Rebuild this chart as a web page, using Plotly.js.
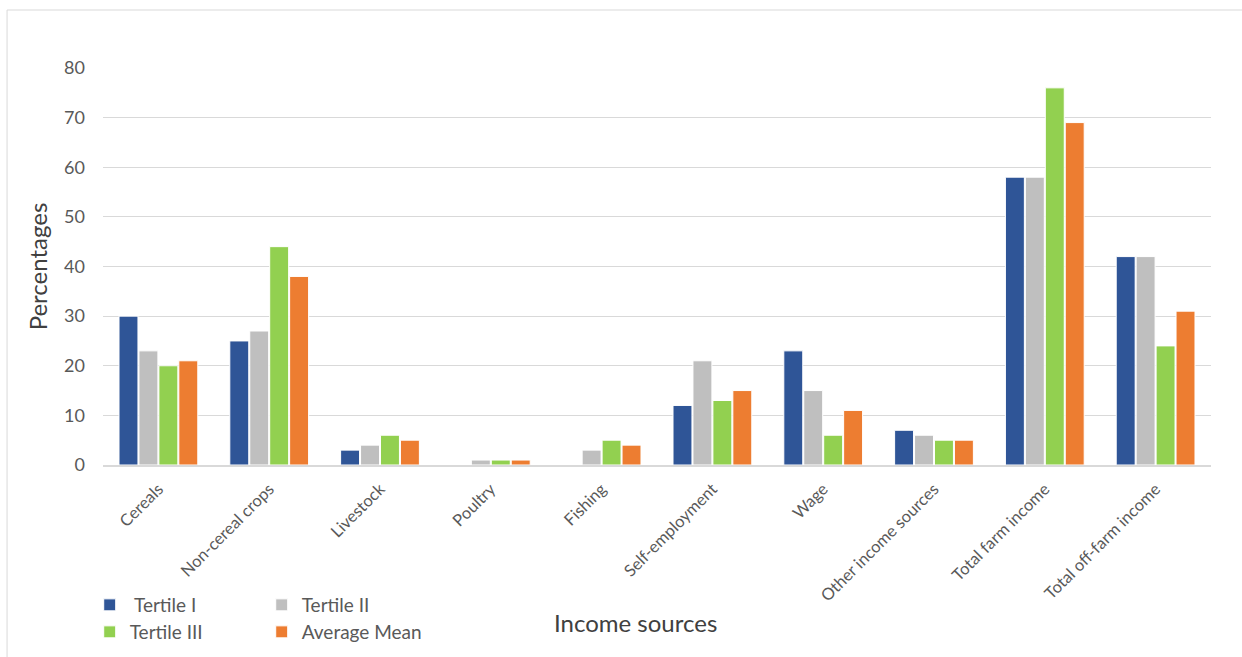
<!DOCTYPE html>
<html><head><meta charset="utf-8">
<script src="https://cdn.plot.ly/plotly-3.0.1.min.js"></script>
<style>html,body{margin:0;padding:0;background:#fff}#chart{width:1242px;height:657px}</style>
</head><body><div id="chart"></div>
<script>
const categories = ["Cereals","Non-cereal crops","Livestock","Poultry","Fishing","Self-employment","Wage","Other income sources","Total farm income","Total off-farm income"];
const tertileI   = [30, 25, 3, 0, 0, 12, 23, 7, 58, 42];
const tertileII  = [23, 27, 4, 1, 3, 21, 15, 6, 58, 42];
const tertileIII = [20, 44, 6, 1, 5, 13, 6, 5, 76, 24];
const averageMean= [21, 38, 5, 1, 4, 15, 11, 5, 69, 31];
const seriesNames = [" Tertile I","Tertile II","Tertile III","Average Mean"];
const colors = ["#2F5597","#BFBFBF","#92D050","#ED7D31"];
const allSeries = [tertileI, tertileII, tertileIII, averageMean];
const legendIds = ["legend","legend","legend2","legend2"];

const traces = allSeries.map((vals,i)=>({
  type:"bar", x:categories, y:vals, name:seriesNames[i],
  marker:{color:colors[i], line:{color:"#ffffff", width:1}},
  legend:legendIds[i], hoverinfo:"y"
}));

const font = "Lato, 'Open Sans', sans-serif";
const legendFont = {family:font, size:19, color:"#595959"};
const plotBottom = 465;
const plotH = plotBottom - 68;
const layout = {
  width:1242, height:657,
  margin:{l:103, r:31, t:68, b:657-plotBottom, autoexpand:false},
  paper_bgcolor:"#ffffff", plot_bgcolor:"#ffffff",
  font:{family:font, color:"#595959", size:16},
  barmode:"group", bargap:0.28, bargroupgap:0.05,
  xaxis:{
    tickangle:-45, tickfont:{size:16.5, color:"#595959"},
    showgrid:false, showline:true, linecolor:"#d9d9d9", linewidth:2,
    ticks:"", automargin:false, ticklabelstandoff:6
  },
  yaxis:{
    range:[0,80], dtick:10, tickfont:{size:18, color:"#595959"},
    gridcolor:"#d9d9d9", gridwidth:1, zeroline:false, showline:false,
    ticks:"", ticklen:0, automargin:false, ticklabelstandoff:17,
    title:{text:"Percentages", font:{size:24, color:"#404040"}, standoff:9}
  },
  legend:{orientation:"h", x:-0.012, y:(plotBottom-605)/plotH, xanchor:"left", yanchor:"middle",
    entrywidth:127, entrywidthmode:"pixels", font:legendFont,
    bgcolor:"rgba(0,0,0,0)", itemclick:false},
  legend2:{orientation:"h", x:-0.012, y:(plotBottom-632)/plotH, xanchor:"left", yanchor:"middle",
    entrywidth:127, entrywidthmode:"pixels", font:legendFont,
    bgcolor:"rgba(0,0,0,0)", itemclick:false},
  showlegend:true,
  annotations:[
    {text:"Income sources", xref:"paper", yref:"paper", x:(635-103)/1108, y:(plotBottom-622)/plotH,
     xanchor:"center", yanchor:"middle", showarrow:false, font:{family:font, size:24, color:"#404040"}}
  ],
  shapes:[
    {type:"line", xref:"paper", yref:"paper", x0:-0.0866, x1:1.03, y0:(plotBottom-10)/plotH, y1:(plotBottom-10)/plotH, line:{color:"#d9d9d9", width:1}},
    {type:"line", xref:"paper", yref:"paper", x0:-0.0866, x1:-0.0866, y0:(plotBottom-10)/plotH, y1:-0.5, line:{color:"#d9d9d9", width:1}}
  ]
};
Plotly.newPlot("chart", traces, layout, {displayModeBar:false, staticPlot:true});
</script></body></html>
